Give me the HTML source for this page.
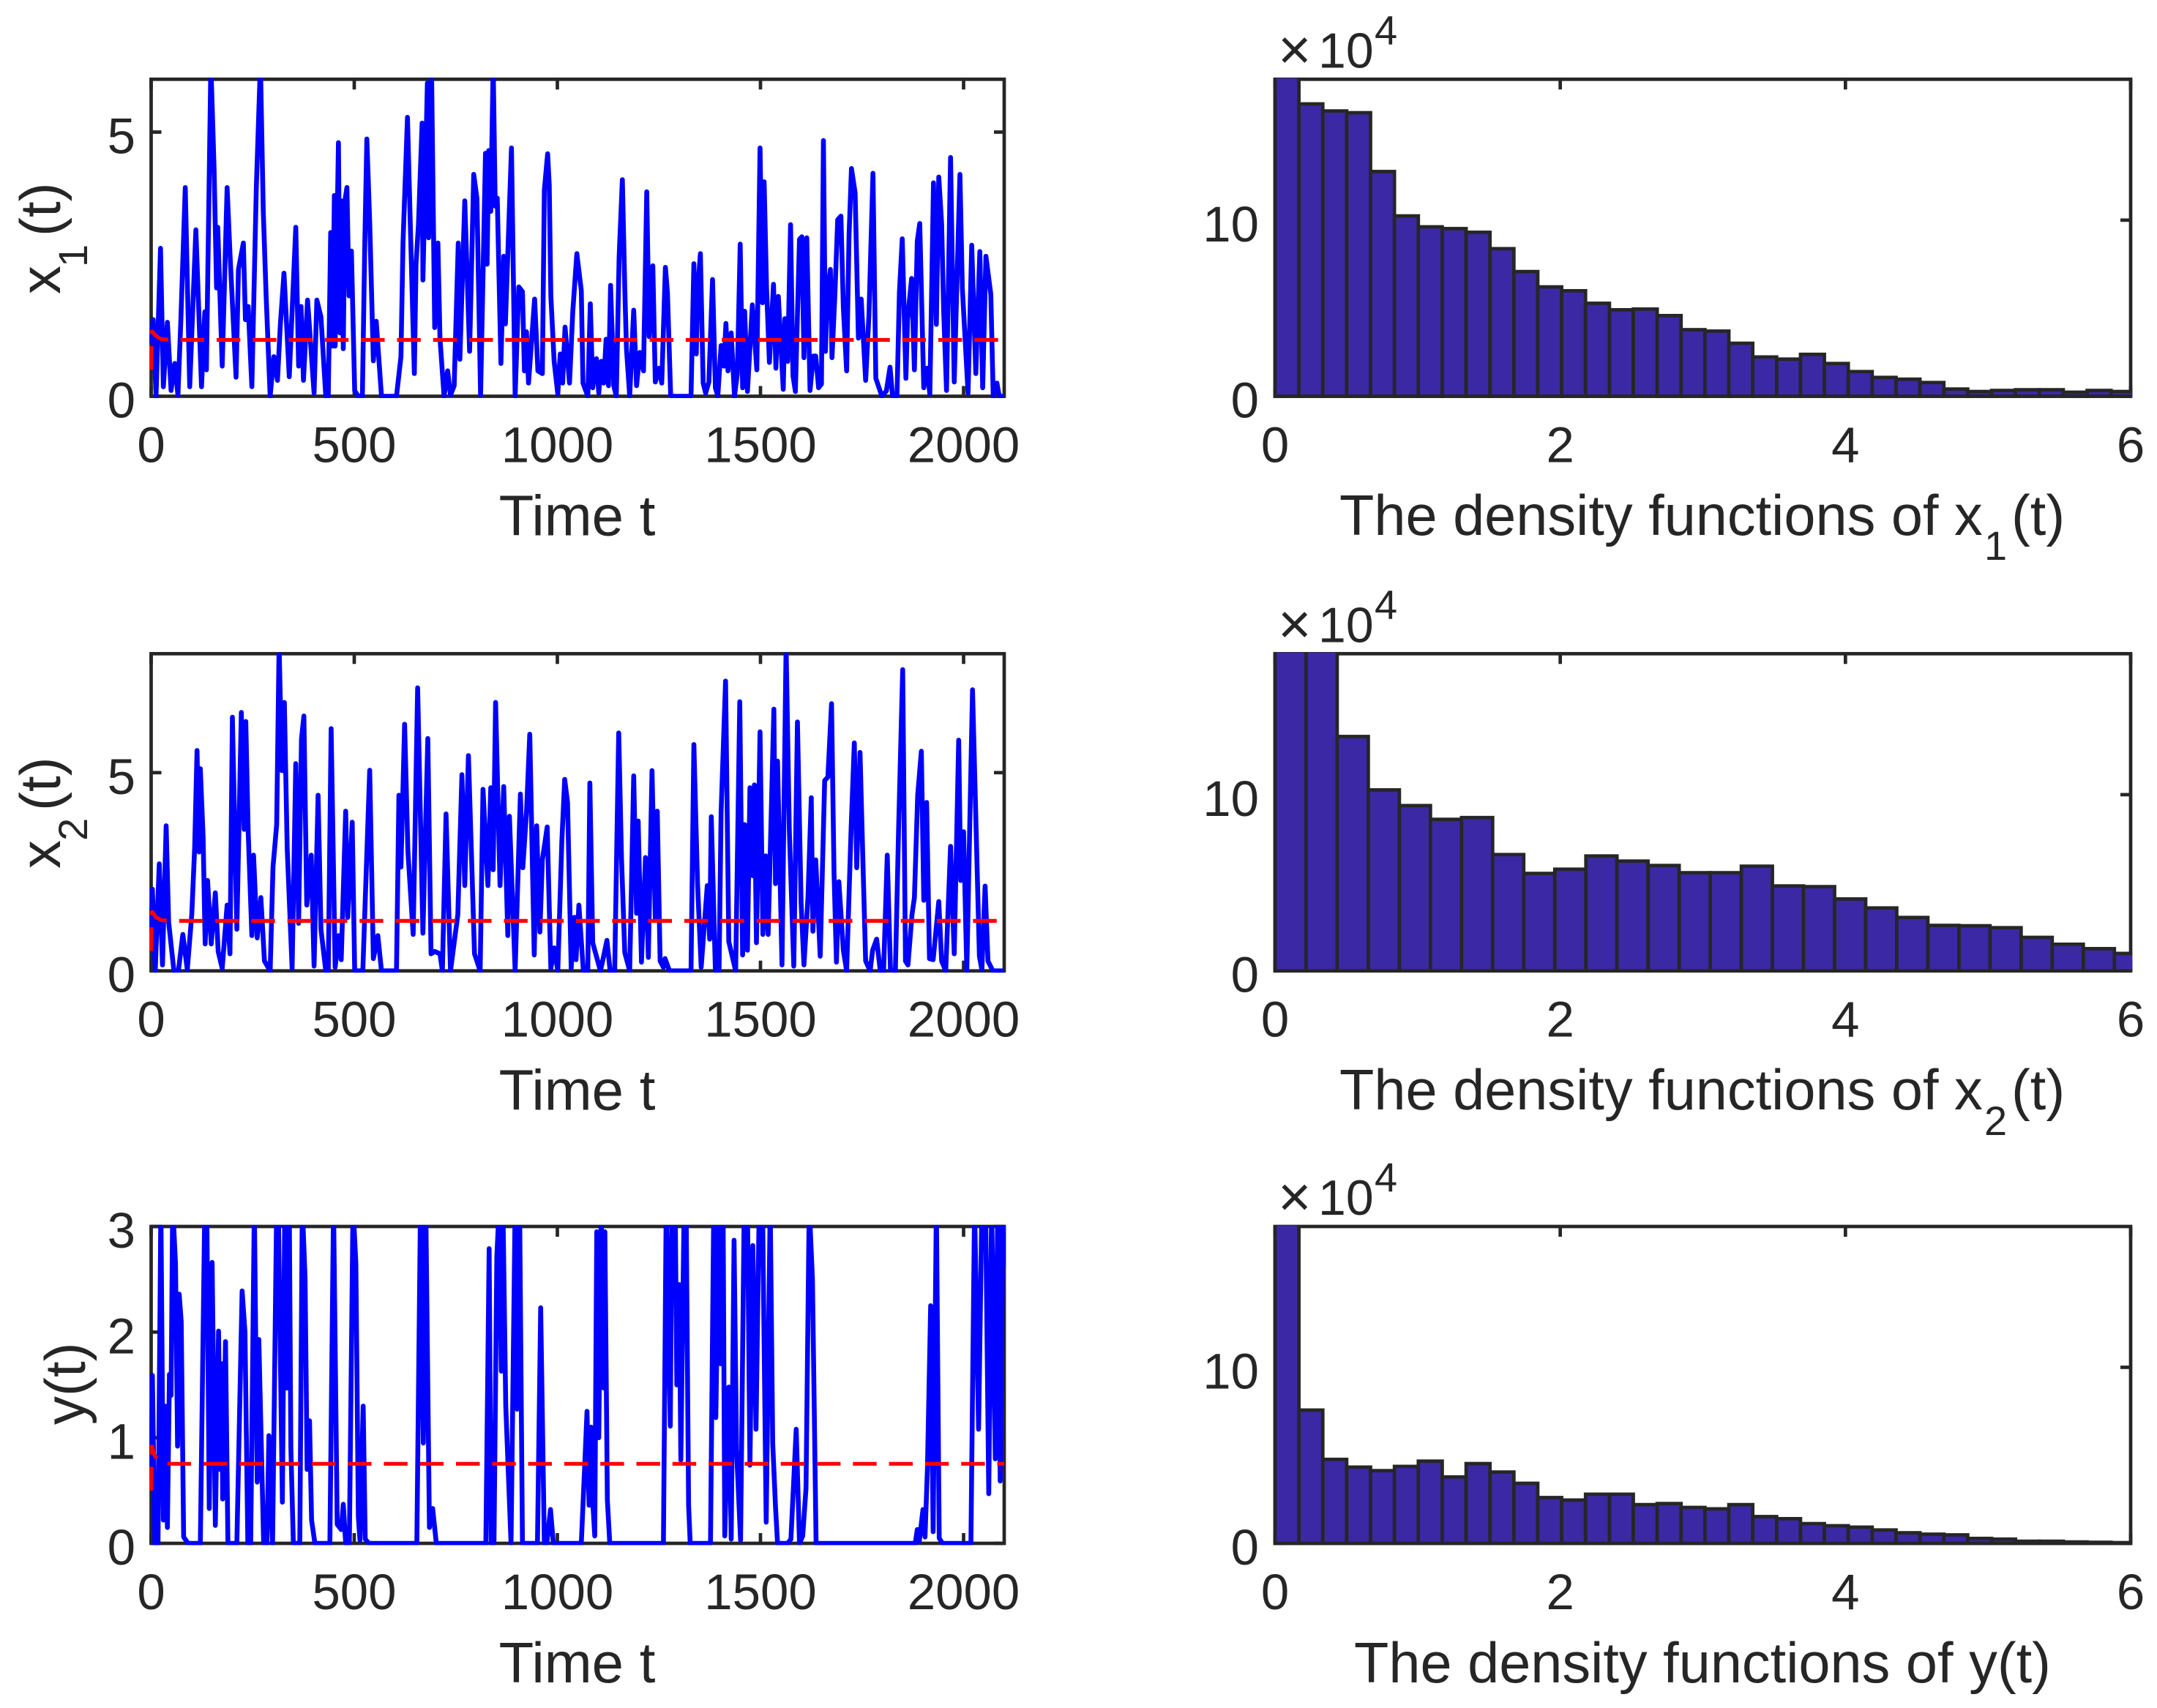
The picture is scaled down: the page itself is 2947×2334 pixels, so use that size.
<!DOCTYPE html>
<html lang="en">
<head>
<meta charset="utf-8">
<title>Time series and density functions</title>
<style>
html,body{margin:0;padding:0;background:#fff;}
svg{display:block;}
text{font-family:"Liberation Sans",Arial,sans-serif;fill:#262626;}
</style>
</head>
<body>
<svg id="figure" xmlns="http://www.w3.org/2000/svg" width="2947" height="2334" viewBox="0 0 2947 2334"></svg>
<script>
// ---------- x1(t) ----------
const tX1 = [
0,5,12,23,30,40,49,58,66,73,
84,95,110,124,132,136,147,155,161,164,
175,187,194,209,215,227,232,239,248,259,
269,276,283,293,302,311,318,327,340,356,
363,369,375,385,401,408,418,430,436,442,
447,451,453,461,465,468,473,477,482,487,
493,501,510,520,526,531,538,547,554,567,
604,615,620,631,638,648,652,658,667,669,
680,683,690,698,706,711,721,730,737,746,
756,760,772,784,794,802,811,823,827,831,
836,842,847,852,861,868,872,887,896,905,
914,919,924,929,944,952,963,968,976,980,
984,992,1001,1007,1013,1019,1030,1038,1048,1059,
1063,1075,1081,1087,1096,1102,1108,1114,1120,1126,
1131,1139,1145,1152,1160,1166,1170,1178,1188,1195,
1203,1212,1220,1226,1235,1241,1250,1257,1266,1271,
1279,1286,1329,1336,1342,1345,1352,1359,1365,1373,
1382,1389,1395,1403,1410,1415,1420,1428,1436,1443,
1450,1456,1461,1468,1480,1491,1499,1505,1509,1515,
1522,1532,1538,1544,1556,1560,1567,1574,1580,1586,
1596,1602,1607,1614,1622,1630,1636,1643,1650,1655,
1660,1664,1672,1676,1683,1690,1698,1704,1712,1718,
1724,1733,1741,1748,1759,1767,1777,1784,1799,1810,
1819,1825,1836,1842,1849,1858,1862,1872,1879,1886,
1892,1902,1910,1917,1926,1933,1939,1946,1951,1958,
1968,1977,1991,1997,2011,2020,2030,2040,2047,2055,
2067,2073,2082,2088,2100];
const valuesX1 = [
1.0,1.45,0,2.8,.18,1.4,.11,.62,.02,1.4,
3.95,.18,3.15,.18,1.6,.5,6.3,4.3,2.05,3.2,
.57,3.95,2.7,.36,2.4,2.9,1.45,1.7,.18,3.95,
6.3,3.5,1.9,0,.75,.3,1.35,2.33,.37,3.2,
.57,1.7,.3,1.82,.06,1.82,1.5,0,0,3.1,
.95,3.8,.95,4.8,1.2,3.7,.9,3.7,3.95,1.9,
2.75,.1,0,0,2.9,4.87,3.3,.67,1.42,0,
0,.75,2.9,5.28,3.25,.43,2.5,3.25,5.17,2.2,
5.93,3,6.3,1.3,2.9,1.1,0,.48,.02,.2,
2.9,.7,3.7,.85,4.2,3.75,.02,4.6,2.5,4.65,
3.5,6.3,3.6,3.75,.62,2.65,1.37,4.7,0,2.07,
1.98,.48,1.22,.25,1.84,.48,.43,3.9,4.59,4,
1.9,.66,.04,.8,.25,1.31,.25,1.61,2.7,2,
.25,0,1.75,.16,.71,.06,.66,.25,1.08,.2,
2.1,.2,0,2.65,4.1,2.05,.9,0,1.63,.2,
.83,.48,3.87,1.13,2.47,.27,.53,.25,2.44,1.96,
.02,0,0,2.51,.8,1.96,2.7,.25,.06,.27,
2.21,.16,0,.96,.57,1.38,.48,1.2,0,.43,
2.88,.16,1.61,.09,1.73,.5,4.7,1.77,4.06,2.05,
.64,2.12,.53,1.89,.13,1.47,.66,3.25,.39,.09,
2.97,3.02,.73,3,.11,.76,.76,.16,.23,4.84,
.85,1.89,2.4,.73,1.9,3.34,3.41,1.68,.48,3.04,
4.31,3.85,1.1,1.84,.3,1.54,4.22,.34,0,.1,
.55,0,0,1.96,2.98,.34,1.45,2.23,.5,2.93,
3.27,.16,.53,.04,4.04,1.36,4.15,3.27,1.6,.11,
4.52,.27,4.2,2.05,.06,2.86,.43,2.74,.16,2.65,
1.93,0,.25,0,0];
const meanTimeX1 = [0,2,3,12,25,52,2100];
const meanValueX1 = [.5,1.25,1.22,1.14,1.08,1.066,1.066];

// ---------- x2(t) ----------
const tX2 = [
0,3,10,20,28,37,43,56,67,78,
89,100,107,113,118,121,128,133,139,148,
158,165,175,187,194,200,211,222,229,233,
239,248,252,261,270,279,293,300,309,315,
322,328,335,347,356,363,370,376,383,394,
401,411,418,430,436,443,453,462,468,479,
484,495,501,521,538,547,558,567,604,610,
615,624,632,645,656,669,681,689,698,711,
717,726,737,755,765,772,781,796,810,817,
829,836,842,848,859,868,878,882,896,909,
915,924,932,943,949,957,963,975,984,992,
1001,1011,1018,1025,1034,1042,1046,1053,1064,1075,
1080,1087,1106,1112,1122,1130,1141,1151,1158,1166,
1178,1188,1195,1199,1207,1217,1224,1233,1241,1246,
1253,1261,1265,1276,1329,1336,1345,1354,1369,1375,
1379,1389,1398,1403,1414,1422,1439,1449,1456,1461,
1468,1474,1481,1485,1490,1499,1506,1513,1519,1533,
1537,1542,1553,1563,1571,1582,1591,1600,1607,1617,
1625,1629,1636,1647,1658,1666,1675,1681,1687,1693,
1704,1712,1723,1731,1737,1745,1753,1759,1770,1776,
1786,1795,1803,1812,1820,1832,1840,1850,1857,1863,
1873,1879,1887,1896,1902,1909,1916,1925,1939,1946,
1956,1968,1977,1988,1993,2000,2008,2022,2030,2039,
2045,2053,2060,2072,2100];
const valuesX2 = [
1.0,2.06,0,2.7,.15,3.66,1.23,0,0,.92,
.03,1.42,3.08,5.56,3,5.1,3.38,.68,2.28,.68,
1.97,.49,.06,1.66,.43,6.4,1.05,6.52,3.57,6.29,
3.5,.89,2.92,.83,1.85,.25,0,2.62,3.69,8.2,
5.05,6.77,3.08,.06,5.23,1.2,5.85,6.43,1.66,2.92,
.12,4.43,1.05,0,0,6.11,.09,.89,.28,4.03,
1.35,3.75,0,0,5.06,.31,.89,0,0,4.43,
2.62,6.22,3.02,.92,7.14,.95,5.86,.43,.49,.43,
0,3.96,0,1.42,4.95,2.15,5.43,.43,0,4.58,
2.15,4.62,2.55,6.77,2.15,4.65,.89,3.9,0,4.46,
2.6,4,5.97,.4,3.66,.98,2.8,3.63,.06,.58,
0,3.26,4.83,4.25,.06,1.35,.28,1.66,0,0,
4.74,.71,0,.28,.77,0,0,6,2.8,.46,
0,4.92,1.45,3.78,.22,2.86,.34,5.05,1.29,4.03,
.25,.09,.31,0,0,5.71,2.2,.09,2.15,.8,
3.89,0,0,4,7.31,.74,0,6.79,.4,3.69,
.52,4.62,2.4,4.69,.71,6.03,.92,2.9,.92,6.6,
2.2,5.29,.15,8.2,3.55,.12,6.28,1.72,.15,1.85,
4.37,1,2.8,.37,4.8,4.89,6.74,2.46,.22,2.25,
.52,0,3.57,5.75,2.6,5.51,2.46,.25,0,.52,
.8,0,0,2.92,.03,0,3.57,7.6,.25,.15,
1.42,1.85,4.43,5.54,1.78,4.25,.31,.28,1.75,.25,
0,3.14,.43,5.82,2.28,3.51,0,7.09,3.88,.37,
.03,2.14,.25,0,0];
const meanTimeX2 = [0,2,3,12,25,52,2100];
const meanValueX2 = [.5,1.52,1.48,1.35,1.28,1.26,1.26];

// ---------- y(t) ----------
const tY = [
0,3,9,17,24,30,34,40,45,49,
53,60,65,69,74,80,91,121,132,137,
143,150,158,166,170,174,176,183,189,211,
224,231,238,245,254,261,265,277,285,290,
299,309,313,323,329,334,340,344,350,366,
372,379,384,390,395,403,440,449,458,468,
473,479,488,497,504,510,514,522,527,536,
654,663,670,676,685,693,702,824,832,837,
844,851,857,862,866,873,886,896,901,907,
914,951,959,968,974,983,990,1059,1067,1073,
1078,1083,1088,1092,1097,1102,1108,1114,1117,1123,
1129,1261,1268,1278,1282,1290,1294,1300,1304,1312,
1317,1323,1327,1377,1385,1390,1398,1402,1408,1412,
1422,1428,1435,1441,1451,1460,1468,1474,1481,1489,
1497,1505,1514,1524,1530,1537,1542,1567,1575,1588,
1596,1604,1612,1620,1628,1637,1881,1886,1891,1900,
1905,1911,1919,1925,1933,1940,1948,2018,2027,2037,
2045,2054,2062,2069,2078,2084,2090,2097,2100];
const valuesY = [
.6,1.59,0,0,3.2,.22,1.3,.15,1.6,1.4,
3.2,2.65,.92,2.36,2.1,.06,0,0,3.2,3.2,
.33,2.66,.17,2.01,.7,1.7,.42,1.91,0,0,
2.39,2,0,0,3.2,.58,1.93,0,0,1.02,
0,3.2,3.2,.39,3.2,1.47,3.2,.9,0,0,
3.2,2.51,.7,1.16,.22,0,0,3.2,.18,.13,
.37,0,0,3.2,2.65,.25,.03,1.3,.04,0,
0,3.2,.95,3.2,.15,.33,0,0,2.79,0,
0,2.72,3.2,1.63,3.2,1.3,0,3.2,1.27,3.2,
0,0,2.23,0,0,.32,0,0,.71,1.25,
.36,1.1,.34,.07,2.95,1,3.2,1.47,2.95,.41,
0,0,3.2,1.11,3.2,3.2,1.5,2.45,.79,3.2,
3.2,.36,0,0,3.2,1.19,3.2,1.7,3.2,.07,
1.48,.04,2.87,.89,.03,3.2,3.2,.74,2.82,1.08,
3.2,3.2,.2,3.2,.95,.35,0,0,.04,1.08,
0,.07,.52,3.2,2.5,0,0,.13,.02,.32,
.06,.71,2.25,.11,3.2,.05,0,0,3.2,1.08,
3.2,3.2,.47,3.2,.8,3.2,.59,3.2,2.62];
const meanTimeY = [0,2,3,8,16,27,52,2100];
const meanValueY = [.5,.93,.905,.836,.79,.76,.753,.753];

// ---------- histograms (counts in units of 10^4) ----------
const binWidthX1 = 0.1675;
const countsX1 = [18.6,16.6,16.2,16.1,12.76,10.24,9.62,9.52,9.31,8.38,7.08,6.21,5.99,5.28,4.91,4.95,4.58,3.78,3.7,3.01,2.23,2.11,2.38,1.86,1.4,1.07,.97,.78,.41,.27,.33,.37,.37,.23,.33,.27];
const binWidthX2 = 0.218;
const countsX2 = [19,18.6,13.3,10.27,9.38,8.6,8.7,6.6,5.53,5.77,6.52,6.23,5.98,5.57,5.57,5.94,4.82,4.78,4.08,3.57,3.03,2.58,2.56,2.45,1.9,1.51,1.26,.99];
const binWidthY = 0.1675;
const countsY = [18.6,7.57,4.77,4.33,4.13,4.37,4.67,3.77,4.53,4.05,3.41,2.6,2.46,2.79,2.79,2.2,2.26,2.04,1.96,2.2,1.52,1.4,1.12,1,.92,.76,.6,.52,.48,.28,.24,.12,.12,.08,.06,.04];

// ---------- tick labels ----------
const timeTicks = [0,500,1000,1500,2000];
const x1Ticks = [0,5];
const x2Ticks = [0,5];
const yTicks = [0,1,2,3];
const densityXTicks = [0,2,4,6];
const densityYTicks = [0,10];

const NS = 'http://www.w3.org/2000/svg';
const fig = document.getElementById('figure');
const INK = '#262626';
const AXIS_W = 4.7;
const TICK_LEN = 14;
let clipCount = 0;

function el(parent, tag, attrs) {
  const node = document.createElementNS(NS, tag);
  for (const k in attrs) node.setAttribute(k, attrs[k]);
  parent.appendChild(node);
  return node;
}
function linScale(d0, d1, r0, r1) {
  return function (v) { return r0 + (v - d0) * (r1 - r0) / (d1 - d0); };
}
function label(parent, name, content, x, y, size, anchor, rotate) {
  const t = el(parent, 'text', {x: x, y: y, 'font-size': size, 'text-anchor': anchor || 'start'});
  if (rotate) t.setAttribute('transform', 'rotate(-90 ' + x + ' ' + y + ')');
  t.textContent = content;
  
  
  return t;
}
function tickLine(parent, name, x1, y1, x2, y2) {
  const l = el(parent, 'line', {x1: x1, y1: y1, x2: x2, y2: y2, stroke: INK, 'stroke-width': AXIS_W});
  
  
}
function makeAxes(panel, left, right, top, bottom, xs, ys, xTickVals, yTickVals, yLabelRight, xLabelBaseline) {
  const frame = el(panel, 'rect', {x: left, y: top, width: right - left, height: bottom - top, fill: 'none', stroke: INK, 'stroke-width': AXIS_W});
  
  
  xTickVals.forEach(function (v) {
    tickLine(panel, 'x-tick-bottom', xs(v), bottom, xs(v), bottom - TICK_LEN);
    tickLine(panel, 'x-tick-top', xs(v), top, xs(v), top + TICK_LEN);
    label(panel, 'x-tick-label', String(v), xs(v), xLabelBaseline, 69, 'middle');
  });
  yTickVals.forEach(function (v) {
    tickLine(panel, 'y-tick-left', left, ys(v), left + TICK_LEN, ys(v));
    tickLine(panel, 'y-tick-right', right, ys(v), right - TICK_LEN, ys(v));
    label(panel, 'y-tick-label', String(v), yLabelRight, ys(v) + 29, 69, 'end');
  });
}
function makeClip(left, right, top, bottom) {
  const id = 'clip' + (++clipCount);
  const cp = el(fig, 'clipPath', {id: id});
  el(cp, 'rect', {x: left - 2.4, y: top - 1.5, width: right - left + 4.6, height: bottom - top + 3.9});
  return id;
}
function pathFrom(ts, vs, xs, ys) {
  let d = '';
  for (let i = 0; i < ts.length; i++) d += (i ? 'L' : 'M') + xs(ts[i]).toFixed(1) + ' ' + ys(vs[i]).toFixed(1);
  return d;
}
function timePanel(name, top, bottom, yMax, yTickVals, ts, vs, mts, mvs) {
  const left = 206.5, right = 1372;
  const panel = el(fig, 'g', {});
  
  
  const xs = linScale(0, 2100, left, right);
  const ys = linScale(0, yMax, bottom, top);
  makeAxes(panel, left, right, top, bottom, xs, ys, timeTicks, yTickVals, 185, bottom + 90);
  const clip = makeClip(left, right, top, bottom);
  const g = el(panel, 'g', {'clip-path': 'url(#' + clip + ')'});
  const blue = el(g, 'path', {d: pathFrom(ts, vs, xs, ys), fill: 'none', stroke: '#0000ff', 'stroke-width': 6.6, 'stroke-linejoin': 'round'});
  
  
  const red = el(g, 'path', {d: pathFrom(mts, mvs, xs, ys), fill: 'none', stroke: '#ff0000', 'stroke-width': 5.2, 'stroke-dasharray': '32.4 16.9'});
  
  
  label(panel, 'x-axis-title', 'Time t', 788.5, bottom + 190, 78, 'middle');
  return panel;
}
function densityPanel(name, top, bottom, counts, binWidth) {
  const left = 1742, right = 2911;
  const panel = el(fig, 'g', {});
  
  
  const xs = linScale(0, 6, left, right);
  const ys = linScale(0, 18, bottom, top);
  makeAxes(panel, left, right, top, bottom, xs, ys, densityXTicks, densityYTicks, 1720, bottom + 90);
  const clip = makeClip(left, right, top, bottom);
  const g = el(panel, 'g', {'clip-path': 'url(#' + clip + ')'});
  counts.forEach(function (c, i) {
    const x0 = xs(i * binWidth), x1 = xs((i + 1) * binWidth);
    const bar = el(g, 'rect', {x: x0, y: ys(c), width: x1 - x0, height: bottom - ys(c), fill: '#3b28a5', stroke: INK, 'stroke-width': 4.7});
    
    
  });
  label(panel, 'y-scale-multiplier-times', '×', 1746, top - 14, 78);
  label(panel, 'y-scale-multiplier-ten', '10', 1801, top - 16, 68);
  label(panel, 'y-scale-multiplier-exponent', '4', 1878, top - 48, 56);
  return panel;
}

const rows = [{top: 108.3, bottom: 541.5}, {top: 893.3, bottom: 1326.7}, {top: 1676, bottom: 2109}];

const p1 = timePanel('x1', rows[0].top, rows[0].bottom, 6, x1Ticks, tX1, valuesX1, meanTimeX1, meanValueX1);
label(p1, 'y-axis-title-x', 'x', 82, 402, 78, 'start', true);
label(p1, 'y-axis-title-subscript', '1', 119, 365, 56, 'start', true);
label(p1, 'y-axis-title-paren', '(t)', 82, 323, 78, 'start', true);

const p2 = timePanel('x2', rows[1].top, rows[1].bottom, 8, x2Ticks, tX2, valuesX2, meanTimeX2, meanValueX2);
label(p2, 'y-axis-title-x', 'x', 82, 1187, 78, 'start', true);
label(p2, 'y-axis-title-subscript', '2', 119, 1149, 56, 'start', true);
label(p2, 'y-axis-title-paren', '(t)', 82, 1108, 78, 'start', true);

const p3 = timePanel('y', rows[2].top, rows[2].bottom, 3, yTicks, tY, valuesY, meanTimeY, meanValueY);
label(p3, 'y-axis-title', 'y(t)', 116, 1947, 78, 'start', true);

const d1 = densityPanel('x1', rows[0].top, rows[0].bottom, countsX1, binWidthX1);
label(d1, 'x-axis-title', 'The density functions of x', 1830, 731, 77.5);
label(d1, 'x-axis-title-subscript', '1', 2711, 765, 56);
label(d1, 'x-axis-title-paren', '(t)', 2748, 731, 77.5);

const d2 = densityPanel('x2', rows[1].top, rows[1].bottom, countsX2, binWidthX2);
label(d2, 'x-axis-title', 'The density functions of x', 1830, 1516, 77.5);
label(d2, 'x-axis-title-subscript', '2', 2711, 1551, 56);
label(d2, 'x-axis-title-paren', '(t)', 2748, 1516, 77.5);

const d3 = densityPanel('y', rows[2].top, rows[2].bottom, countsY, binWidthY);
label(d3, 'x-axis-title', 'The density functions of y(t)', 2326, 2299, 77.5, 'middle');
</script>
</body>
</html>
